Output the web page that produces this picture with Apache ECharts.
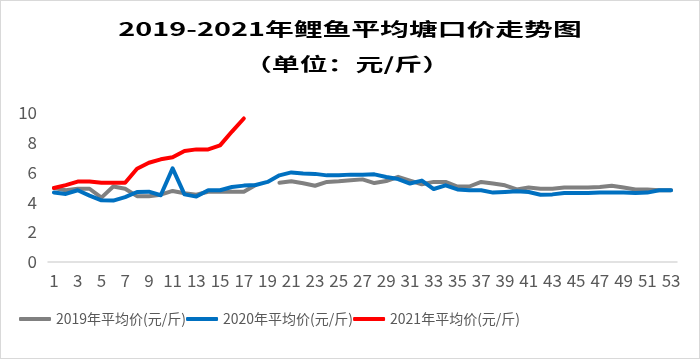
<!DOCTYPE html>
<html>
<head>
<meta charset="utf-8">
<script src="https://cdn.jsdelivr.net/npm/echarts@6/dist/echarts.min.js"></script>
<style>
html,body{margin:0;padding:0;background:#fff;}
#chart{width:698px;height:357px;border:1px solid #d9d9d9;}
</style>
</head>
<body>
<div id="chart"></div>
<script>
var titleLine1 = '2019-2021年鲤鱼平均塘口价走势图';
var titleLine2 = '（单位：元/斤）';
var weeks = [];
for (var i = 1; i <= 53; i++) weeks.push(String(i));
var seriesNames = ['2019年平均价(元/斤)', '2020年平均价(元/斤)', '2021年平均价(元/斤)'];
var price2019 = [4.95, 4.8, 4.9, 4.9, 4.3, 5.05, 4.9, 4.4, 4.4, 4.5,
  4.75, 4.6, 4.5, 4.7, 4.7, 4.7, 4.7, 5.15, null, 5.3,
  5.4, 5.27, 5.1, 5.36, 5.4, 5.47, 5.53, 5.28, 5.42, 5.7,
  5.45, 5.2, 5.36, 5.36, 5.05, 5.05, 5.36, 5.25, 5.13, 4.85,
  4.98, 4.9, 4.9, 4.98, 4.98, 4.98, 5.02, 5.1, 4.98, 4.85,
  4.85, 4.8, 4.8];
var price2020 = [4.64, 4.55, 4.8, 4.44, 4.12, 4.1, 4.34, 4.68, 4.7, 4.46,
  6.27, 4.52, 4.37, 4.8, 4.8, 5.02, 5.11, 5.15, 5.36, 5.8,
  6.0, 5.92, 5.9, 5.8, 5.8, 5.85, 5.85, 5.87, 5.69, 5.55,
  5.25, 5.45, 4.88, 5.13, 4.85, 4.8, 4.8, 4.64, 4.68, 4.73,
  4.68, 4.5, 4.52, 4.62, 4.62, 4.62, 4.64, 4.64, 4.64, 4.62,
  4.64, 4.8, 4.8];
var price2021 = [4.95, 5.14, 5.38, 5.38, 5.3, 5.3, 5.3, 6.25, 6.65, 6.88,
  7.02, 7.44, 7.55, 7.55, 7.82, 8.75, 9.63];
var yTicks = {min: 0, max: 10, interval: 2};
var colors = ['#808080', '#0070C0', '#FF0000'];

var FONT = "'Noto Sans CJK SC', 'Noto Sans', sans-serif";
var chart = echarts.init(document.getElementById('chart'), null, {renderer: 'canvas'});

function mkSeries(name, data, color) {
  return {
    name: name, type: 'line', data: data, showSymbol: false, symbol: 'none',
    connectNulls: false, smooth: false,
    lineStyle: {color: color, width: 4, cap: 'round', join: 'round'},
    itemStyle: {color: color},
    emphasis: {disabled: true}
  };
}

chart.setOption({
  animation: false,
  color: colors,
  textStyle: {fontFamily: FONT},
  graphic: [
    {type: 'text', x: 349, y: 28, scaleX: 1.6, silent: true,
      style: {text: titleLine1, fontSize: 18, fontWeight: 'bold', fontFamily: FONT,
        fill: '#000', align: 'center', verticalAlign: 'middle',
        textAlign: 'center', textVerticalAlign: 'middle'}},
    {type: 'text', x: 346, y: 63, scaleX: 1.55, silent: true,
      style: {text: titleLine2, fontSize: 18, fontWeight: 'bold', fontFamily: FONT,
        fill: '#000', align: 'center', verticalAlign: 'middle',
        textAlign: 'center', textVerticalAlign: 'middle'}}
  ],
  legend: {
    left: 13, top: 306,
    icon: 'roundRect', itemWidth: 32, itemHeight: 4, itemGap: 0,
    textStyle: {fontSize: 14, color: '#595959', fontFamily: FONT},
    data: seriesNames
  },
  grid: {left: 47, right: 22, top: 112, bottom: 96.5, containLabel: false},
  xAxis: {
    type: 'category', data: weeks, boundaryGap: true,
    axisTick: {show: false},
    axisLine: {lineStyle: {color: '#d9d9d9', width: 1.5}},
    axisLabel: {interval: 1, fontSize: 17, color: '#595959', margin: 11, fontFamily: FONT}
  },
  yAxis: {
    type: 'value', min: yTicks.min, max: yTicks.max, interval: yTicks.interval,
    splitLine: {show: false},
    axisLine: {show: false}, axisTick: {show: false},
    axisLabel: {fontSize: 17, color: '#595959', margin: 11, fontFamily: FONT}
  },
  series: [
    mkSeries(seriesNames[0], price2019, colors[0]),
    mkSeries(seriesNames[1], price2020, colors[1]),
    mkSeries(seriesNames[2], price2021, colors[2])
  ]
});
</script>
</body>
</html>
